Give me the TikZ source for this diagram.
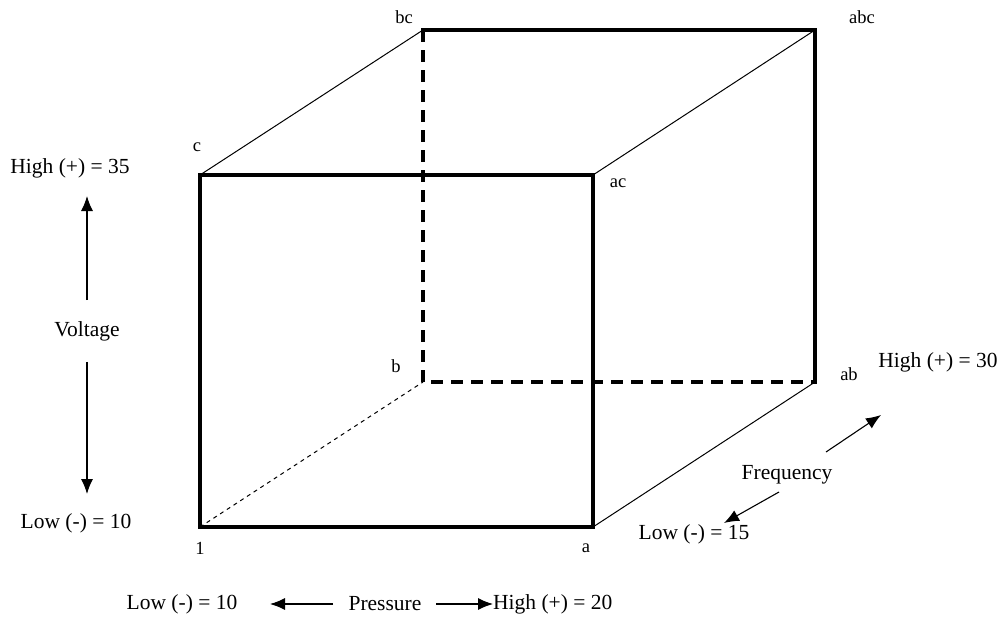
\documentclass[tikz,border=0pt]{standalone}
\usepackage{fontspec}
\setmainfont{Liberation Serif}
\usetikzlibrary{arrows.meta}
\tikzset{
  edge/.style={line width=3.2pt, line cap=rect},
  hidden/.style={line width=3.2pt, dash pattern=on 12pt off 8pt},
  depth/.style={line width=1pt},
  hiddendepth/.style={line width=1pt, dash pattern=on 4pt off 4pt},
  lbl/.style={font=\fontsize{21.5}{24}\selectfont, inner sep=1pt},
  corner/.style={font=\fontsize{18.5}{21}\selectfont, inner sep=1pt},
  axis/.style={line width=1.1pt, -{Latex[length=15pt,width=12pt]}}
}
\begin{document}
\begin{tikzpicture}[x=1pt, y=-1pt]
  \useasboundingbox (0,0) rectangle (1001,619);
  % Corners of the cube
  \coordinate (p1) at (200,527);
  \coordinate (pa) at (593,527);
  \coordinate (pc) at (200,175);
  \coordinate (pac) at (593,175);
  \coordinate (pb) at (423,382);
  \coordinate (pab) at (815,382);
  \coordinate (pbc) at (423,30);
  \coordinate (pabc) at (815,30);
  % Hidden edges
  \draw[hidden] (pbc) -- (pb) -- (pab);
  \draw[hiddendepth] (p1) -- (pb);
  % Depth edges
  \foreach \f/\t in {pc/pbc, pac/pabc, pa/pab}
    \draw[depth] (\f) -- (\t);
  % Back edges
  \draw[edge] (pbc) -- (pabc) -- (pab);
  % Front face
  \draw[edge] (p1) rectangle (pac);
  % Corner labels
  \node[corner] (l1) at (200,548) {1};
  \node[corner] (la) at (586,548) {a};
  \node[corner] (lc) at (197,147) {c};
  \node[corner] (lac) at (618,183) {ac};
  \node[corner] (lb) at (396,366) {b};
  \node[corner] (lab) at (849,374) {ab};
  \node[corner] (lbc) at (404,17) {bc};
  \node[corner] (labc) at (862,17) {abc};
  % Voltage
  \node[lbl] (vhigh) at (70,168) {High (+) = 35};
  \node[lbl] (volt) at (87,331) {Voltage};
  \node[lbl] (vlow) at (76,523) {Low (-) = 10};
  \coordinate (vup) at (87,196);
  \coordinate (vdown) at (87,494);
  \draw[axis] (volt.north) ++(0,-20) coordinate (vu0) -- (vup);
  \draw[axis] (volt.south) ++(0,20) coordinate (vd0) -- (vdown);
  % Pressure
  \node[lbl] (plow) at (182,604) {Low (-) = 10};
  \node[lbl] (pres) at (385,604) {Pressure};
  \node[lbl, anchor=west] (phigh) at (492,604) {High (+) = 20};
  \coordinate (pleft) at (270,604);
  \coordinate (pright) at (493,604);
  \draw[axis] (333,604) coordinate (pl0) -- (pleft);
  \draw[axis] (436,604) coordinate (pr0) -- (pright);
  % Frequency
  \node[lbl] (freq) at (787,475) {Frequency};
  \node[lbl] (fhigh) at (938,362) {High (+) = 30};
  \node[lbl] (flow) at (694,534) {Low (-) = 15};
  \coordinate (fup) at (881,415);
  \coordinate (fdown) at (724,523);
  \draw[axis] (826,452) coordinate (fu0) -- (fup);
  \draw[axis] (779,492) coordinate (fd0) -- (fdown);
\end{tikzpicture}
\end{document}
